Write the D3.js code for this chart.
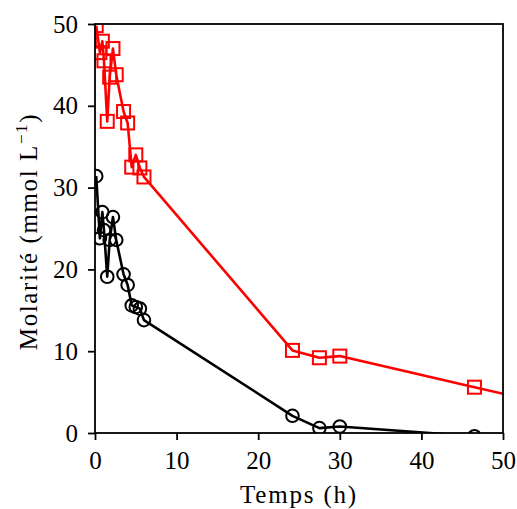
<!DOCTYPE html>
<html><head><meta charset="utf-8">
<script src="https://cdn.jsdelivr.net/npm/d3@7"></script>
<style>body{margin:0;background:#fff}svg{display:block}text{font-family:"Liberation Serif","DejaVu Serif",serif}</style>
</head><body>
<script>
const times = [0.15, 0.6, 0.9, 1.1, 1.5, 1.8, 2.2, 2.6, 3.5, 4.0, 4.5, 5.0, 5.5, 6.0, 24.2, 27.5, 30.0, 46.5, 70.0];
const redValues = [49.8, 46.5, 47.9, 45.5, 38.1, 43.5, 47.0, 43.8, 39.3, 37.9, 32.5, 34.0, 32.4, 31.3, 10.1, 9.2, 9.4, 5.6, 0.2];
const blackValues = [31.4, 23.8, 27.0, 24.8, 19.1, 23.6, 26.4, 23.6, 19.4, 18.1, 15.6, 15.4, 15.2, 13.8, 2.1, 0.6, 0.8, -0.4, -2.1];
const xTicks = [0, 10, 20, 30, 40, 50];
const yTicks = [0, 10, 20, 30, 40, 50];

const W = 517, H = 509;
const m = {left: 95, right: 14, top: 24, bottom: 76};
const svg = d3.select("body").append("svg").attr("width", W).attr("height", H);
const x = d3.scaleLinear().domain([0, 50]).range([m.left, W - m.right]);
const y = d3.scaleLinear().domain([0, 50]).range([H - m.bottom, m.top]);

svg.append("defs").append("clipPath").attr("id", "clip")
  .append("rect").attr("x", m.left).attr("y", m.top)
  .attr("width", W - m.left - m.right).attr("height", H - m.top - m.bottom);

const plot = svg.append("g").attr("clip-path", "url(#clip)");
const line = d3.line().x(d => x(d[0])).y(d => y(d[1]));
const blackData = times.map((t, i) => [t, blackValues[i]]);
const redData = times.map((t, i) => [t, redValues[i]]);

plot.append("path").datum(blackData).attr("d", line)
  .attr("fill", "none").attr("stroke", "#000").attr("stroke-width", 2.6).attr("stroke-linejoin", "round");
plot.selectAll("circle.b").data(blackData).join("circle")
  .attr("cx", d => x(d[0])).attr("cy", d => y(d[1])).attr("r", 6.3)
  .attr("fill", "none").attr("stroke", "#000").attr("stroke-width", 2);

plot.append("path").datum(redData).attr("d", line)
  .attr("fill", "none").attr("stroke", "#ff0000").attr("stroke-width", 2.6).attr("stroke-linejoin", "round");
const s = 13;
plot.selectAll("rect.r").data(redData).join("rect")
  .attr("x", d => x(d[0]) - s / 2).attr("y", d => y(d[1]) - s / 2)
  .attr("width", s).attr("height", s)
  .attr("fill", "none").attr("stroke", "#ff0000").attr("stroke-width", 2);

// frame
svg.append("rect").attr("x", m.left).attr("y", m.top)
  .attr("width", W - m.left - m.right).attr("height", H - m.top - m.bottom)
  .attr("fill", "none").attr("stroke", "#000").attr("stroke-width", 1.8);

const fs = 25;
const xa = svg.append("g").attr("transform", `translate(0,${H - m.bottom})`)
  .call(d3.axisBottom(x).tickValues(xTicks).tickSize(7).tickPadding(11).tickFormat(d3.format("d")));
const ya = svg.append("g").attr("transform", `translate(${m.left},0)`)
  .call(d3.axisLeft(y).tickValues(yTicks).tickSize(7).tickPadding(10).tickFormat(d3.format("d")));
[xa, ya].forEach(a => {
  a.select(".domain").remove();
  a.selectAll(".tick line").attr("stroke", "#000").attr("stroke-width", 1.8);
  a.selectAll(".tick text").attr("fill", "#000").style("font-size", fs + "px")
    .style("font-family", '"Liberation Serif","DejaVu Serif",serif');
});

svg.append("text").attr("x", (m.left + W - m.right) / 2).attr("y", 503)
  .attr("text-anchor", "middle").style("font-size", fs + "px").style("letter-spacing", "1.8px").text("Temps (h)");

const yl = svg.append("text")
  .attr("transform", `translate(37,${(m.top + H - m.bottom) / 2 + 3}) rotate(-90)`)
  .attr("text-anchor", "middle").style("font-size", fs + "px").style("letter-spacing", "1.6px");
yl.append("tspan").text("Molarité (mmol L");
yl.append("tspan").attr("dy", -10).style("font-size", "17px").text("−1");
yl.append("tspan").attr("dy", 10).text(")");
</script>
</body></html>
